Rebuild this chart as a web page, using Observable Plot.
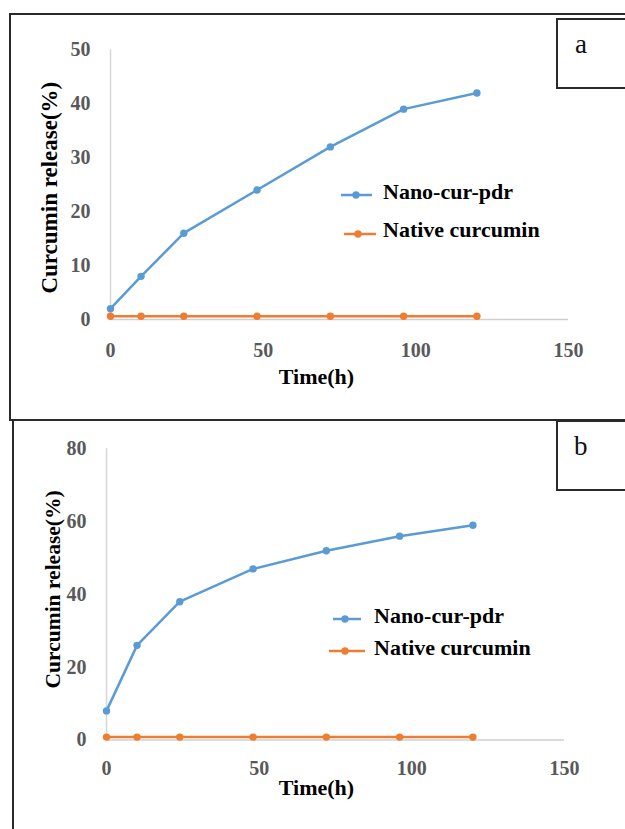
<!DOCTYPE html>
<html><head><meta charset="utf-8">
<script src="https://cdn.jsdelivr.net/npm/d3@7"></script>
<script src="https://cdn.jsdelivr.net/npm/@observablehq/plot@0.6"></script>
<style>
body{margin:0;background:#fff;}
#page{position:relative;width:625px;height:829px;overflow:hidden;font-family:"Liberation Serif","Times New Roman",serif;background:#fff;}
.ln{position:absolute;background:#2a2a2a;}
.box{position:absolute;border:2px solid #2a2a2a;width:120px;background:#fff;}
.tag{position:absolute;font-size:27px;line-height:1;color:#111;}
.leg{position:absolute;font-weight:bold;font-size:22px;line-height:1;color:#000;white-space:nowrap;}
.sw{position:absolute;overflow:visible;}
</style></head><body><div id="page"></div>
<script>
// ---- data ----
const times = [0, 10, 24, 48, 72, 96, 120];
const nanoA = [2, 8, 16, 24, 32, 39, 42];
const nativeA = [0.6, 0.6, 0.6, 0.6, 0.6, 0.6, 0.6];
const nanoB = [8, 26, 38, 47, 52, 56, 59];
const nativeB = [0.8, 0.8, 0.8, 0.8, 0.8, 0.8, 0.8];
const yTicksA = [0, 10, 20, 30, 40, 50];
const yTicksB = [0, 20, 40, 60, 80];
const xTicks = [0, 50, 100, 150];
const seriesNames = ["Nano-cur-pdr", "Native curcumin"];
const seriesColors = ["#5B9BD5", "#ED7D31"];
const xTitle = "Time(h)";
const yTitle = "Curcumin release(%)";
const panelTags = ["a", "b"];

const page = document.getElementById("page");

function panel(o) {
  const rows = times.flatMap((t, i) => [
    {t, v: o.nano[i], s: seriesNames[0]},
    {t, v: o.native[i], s: seriesNames[1]}
  ]);
  const svg = Plot.plot({
    width: 625, height: o.height,
    marginLeft: o.mL, marginRight: o.mR, marginTop: o.mT, marginBottom: o.mB,
    style: {fontFamily: '"Liberation Serif", serif', fontSize: "20px", color: "#595959", background: "transparent", overflow: "visible"},
    x: {domain: [0, 150]},
    y: {domain: [0, o.yMax]},
    color: {domain: seriesNames, range: seriesColors},
    marks: [
      Plot.ruleY([0], {stroke: "#d0d0d0", strokeWidth: 1.5}),
      Plot.ruleX([0], {stroke: "#d6d6d6", strokeWidth: 1.5}),
      Plot.axisY({ticks: o.yTicks, tickSize: 0, tickPadding: 20, label: null, fontWeight: "bold"}),
      Plot.axisX({ticks: xTicks, tickSize: 0, tickPadding: o.xPad, label: null, fontWeight: "bold"}),
      Plot.line(rows, {x: "t", y: "v", z: "s", stroke: "s", strokeWidth: 2.5}),
      Plot.dot(rows, {x: "t", y: "v", fill: "s", r: 3.7}),
      Plot.text([xTitle], {text: d => d, frameAnchor: "bottom", textAnchor: "middle", dx: o.xtDx, dy: o.xtDy, lineAnchor: "middle", fontWeight: "bold", fontSize: 22, fill: "#000"}),
      Plot.text([yTitle], {text: d => d, frameAnchor: "left", textAnchor: "middle", rotate: -90, dx: o.ytDx, dy: o.ytDy, lineAnchor: "middle", fontWeight: "bold", fontSize: o.ytSize, fill: "#000"})
    ]
  });
  svg.style.position = "absolute";
  svg.style.left = "0px";
  svg.style.top = o.top + "px";
  page.appendChild(svg);
}

panel({nano: nanoA, native: nativeA, yMax: 50, yTicks: yTicksA, top: 0, height: 419,
  mL: 110, mR: 57, mT: 49.3, mB: 100, xPad: 23, xtDx: -23, xtDy: 57, ytDx: -61, ytDy: 3, ytSize: 23});
panel({nano: nanoB, native: nativeB, yMax: 80, yTicks: yTicksB, top: 420, height: 409,
  mL: 106, mR: 61, mT: 28.3, mB: 89.5, xPad: 21, xtDx: -19, xtDy: 48, ytDx: -53, ytDy: -5, ytSize: 21.5});

function el(cls, css, html) {
  const d = document.createElement("div");
  d.className = cls;
  Object.assign(d.style, css);
  if (html != null) d.textContent = html;
  page.appendChild(d);
  return d;
}
// frames
el("ln", {left: "9px", top: "13px", width: "620px", height: "2px"});
el("ln", {left: "9px", top: "13px", width: "2px", height: "407px"});
el("ln", {left: "9px", top: "418.5px", width: "620px", height: "2px"});
el("ln", {left: "12px", top: "419px", width: "2px", height: "412px"});
// tag boxes
el("box", {left: "556px", top: "18px", height: "67px"});
el("tag", {left: "575px", top: "31px"}, panelTags[0]);
el("box", {left: "556px", top: "420px", height: "67px"});
el("tag", {left: "574px", top: "433px"}, panelTags[1]);

// legends
function legend(items) {
  items.forEach((it, i) => {
    const ns = "http://www.w3.org/2000/svg";
    const s = document.createElementNS(ns, "svg");
    s.setAttribute("class", "sw");
    s.setAttribute("width", it.x2 - it.x1);
    s.setAttribute("height", 10);
    s.style.left = it.x1 + "px";
    s.style.top = (it.y - 5) + "px";
    const l = document.createElementNS(ns, "line");
    l.setAttribute("x1", 0); l.setAttribute("x2", it.x2 - it.x1);
    l.setAttribute("y1", 5); l.setAttribute("y2", 5);
    l.setAttribute("stroke", seriesColors[i]); l.setAttribute("stroke-width", 2.5);
    const c = document.createElementNS(ns, "circle");
    c.setAttribute("cx", it.m - it.x1); c.setAttribute("cy", 5); c.setAttribute("r", 3.7);
    c.setAttribute("fill", seriesColors[i]);
    s.appendChild(l); s.appendChild(c);
    page.appendChild(s);
    el("leg", {left: it.tx + "px", top: (it.ty - 11) + "px"}, seriesNames[i]);
  });
}
legend([
  {x1: 341, x2: 372, m: 356, y: 195, tx: 383, ty: 192},
  {x1: 344, x2: 376, m: 358, y: 234, tx: 383, ty: 230}
]);
legend([
  {x1: 333, x2: 361, m: 345, y: 619, tx: 374, ty: 616},
  {x1: 329, x2: 365, m: 345, y: 651, tx: 374, ty: 648}
]);
</script></body></html>
